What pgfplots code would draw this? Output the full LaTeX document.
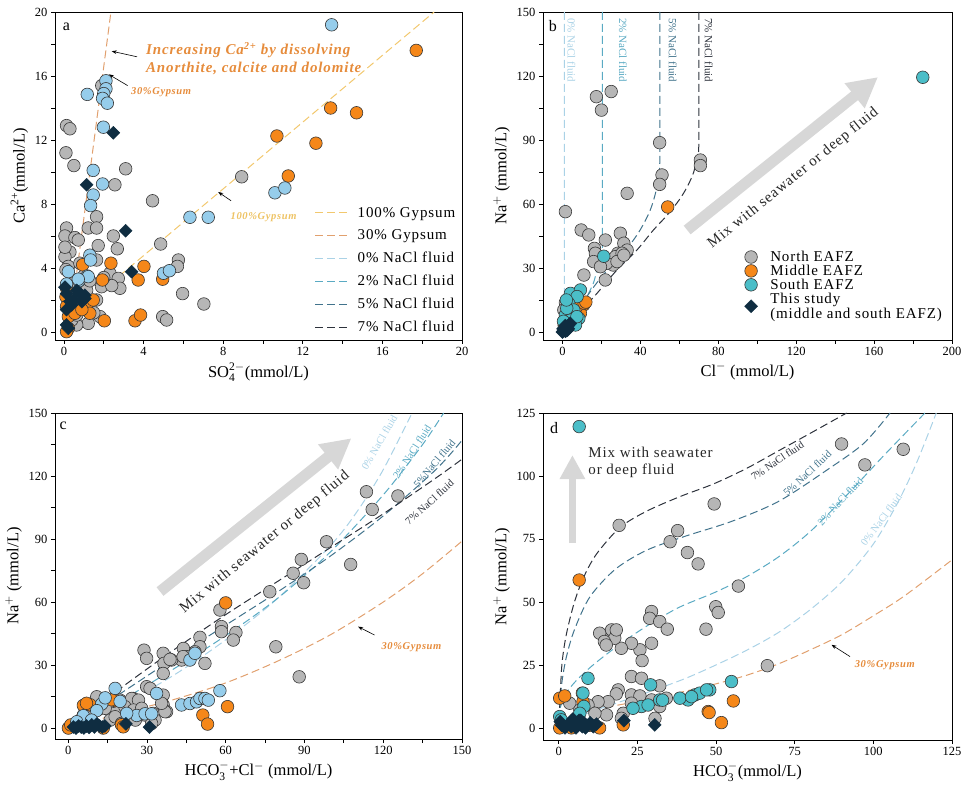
\documentclass[border=0pt]{standalone}
\usepackage{fontspec}
\setmainfont{Liberation Serif}
\newfontfamily\lsfont[LetterSpace=6]{Liberation Serif}
\usepackage{amsmath}
\usepackage{pgfplots}
\pgfplotsset{compat=1.18}
\usetikzlibrary{arrows.meta}

\definecolor{cN}{RGB}{182,182,182}
\definecolor{cEdge}{RGB}{55,55,55}
\definecolor{cM}{RGB}{245,135,25}
\definecolor{cSa}{RGB}{150,205,235}
\definecolor{cSb}{RGB}{75,190,200}
\definecolor{cD}{RGB}{15,45,65}
\definecolor{lG100}{RGB}{242,200,110}
\definecolor{lG30}{RGB}{225,160,110}
\definecolor{l0}{RGB}{170,210,230}
\definecolor{l2}{RGB}{90,170,195}
\definecolor{l5}{RGB}{65,115,140}
\definecolor{l7}{RGB}{45,50,60}
\definecolor{annO}{RGB}{230,140,60}
\definecolor{annY}{RGB}{238,195,100}
\definecolor{agray}{RGB}{215,215,215}

\pgfplotsset{
 panel/.style={scale only axis, axis line style={line width=0.8pt},
  tick align=outside, xtick pos=bottom, ytick pos=left,
  major tick length=4pt, minor tick length=4pt,
  every tick/.style={black, line width=0.7pt},
  tick label style={font=\fontsize{12.5}{13}\selectfont},
  label style={font=\fontsize{16.5}{17}\selectfont},
  /pgf/number format/assume math mode=true,
  legend cell align=left},
 gN/.style={only marks, mark=*, mark size=6.3pt, mark options={fill=cN, draw=cEdge, line width=0.6pt}},
 gM/.style={only marks, mark=*, mark size=6.3pt, mark options={fill=cM, draw=cEdge, line width=0.6pt}},
 gSa/.style={only marks, mark=*, mark size=6.3pt, mark options={fill=cSa, draw=cEdge, line width=0.6pt}},
 gSb/.style={only marks, mark=*, mark size=6.3pt, mark options={fill=cSb, draw=cEdge, line width=0.6pt}},
 gD/.style={only marks, mark=square*, mark size=4.6pt, mark options={fill=cD, draw=cD, rotate=45}},
 dline/.style={no marks, line width=1pt, dash pattern=on 8pt off 4pt},
}

\begin{document}
\begin{tikzpicture}
\path[use as bounding box] (0,0) rectangle (963pt,792pt);

% ---------------- panel a
\begin{axis}[panel, at={(55pt,452pt)}, anchor=south west, width=407pt, height=328pt,
 xmin=-0.45, xmax=20, ymin=-0.5, ymax=20, xtick={0,4,...,20}, ytick={0,4,...,20}, minor tick num=1,
 xlabel={SO$_{\text{4}}^{\text{2}-}$(mmol/L)}, ylabel={Ca$^{\text{2+}}$(mmol/L)},
 legend image code/.code={\draw[#1] (0pt,0pt) -- (32pt,0pt); \path (40pt,0pt);},
 legend style={at={(0.63,0.418)}, anchor=north west, draw=none, fill=none,
  font=\lsfont\fontsize{15}{16}\selectfont, row sep=7pt}]
\addplot[dline, lG100] coordinates {(0,0.6)(18.6,20)}; \addlegendentry{100\% Gypsum}
\addplot[dline, lG30] coordinates {(0.25,0)(2.36,20)}; \addlegendentry{30\% Gypsum}
\addlegendimage{dline, l0}\addlegendentry{0\% NaCl fluid}
\addlegendimage{dline, l2}\addlegendentry{2\% NaCl fluid}
\addlegendimage{dline, l5}\addlegendentry{5\% NaCl fluid}
\addlegendimage{dline, l7}\addlegendentry{7\% NaCl fluid}
\addplot[gN, forget plot] coordinates {(0.13,12.9)(0.3,12.7)(0.1,11.2)(0.5,10.4)(3.1,10.2)(2.56,9.2)(4.45,8.2)(8.93,9.7)(1.64,7.2)(0.13,6.5)(0.05,6.0)(1.22,6.5)(1.64,6.5)(0.55,5.9)(0.72,5.75)(2.48,6.0)(2.68,5.2)(1.72,5.4)(4.86,5.5)(5.75,4.5)(5.7,4.1)(5.96,2.4)(7.03,1.75)(4.96,0.96)(5.16,0.75)(0.3,5.0)(0.05,4.7)(0.22,4.1)(1.64,4.5)(2.31,3.67)(2.73,3.35)(2.81,2.73)(1.89,2.83)(1.64,2.0)(1.14,2.6)(0.64,2.4)(0.97,1.4)(1.22,0.54)(0.64,0.44)(0.39,0.75)(1.81,0.96)(2.4,2.9)(0.8,4.3)(0.64,1.06)(0.05,5.3)(1.9,15.4)(1.0,3.5)(1.3,3.2)(0.4,3.0)(0.1,3.9)(1.5,1.2)(2.0,3.4)};
\addplot[gM, forget plot] coordinates {(17.7,17.6)(13.4,14.0)(14.7,13.7)(10.7,12.25)(12.66,11.8)(11.27,9.75)(0.94,4.2)(2.36,4.3)(4.02,4.1)(3.73,3.25)(4.96,3.3)(1.93,3.25)(2.03,0.7)(3.57,0.7)(3.85,1.06)(0.13,2.73)(0.1,2.2)(0.13,1.6)(0.22,0.96)(0.22,0.23)(0.8,1.7)(1.14,1.5)(1.47,2.0)(0.55,1.17)(0.13,0.02)(1.3,1.17)(0.9,1.4)};
\addplot[gSa, forget plot] coordinates {(13.45,19.2)(1.17,14.85)(2.11,15.7)(2.11,15.2)(2.0,14.9)(1.94,14.6)(2.18,14.3)(1.98,12.8)(1.47,10.1)(1.47,8.56)(1.34,7.9)(1.94,9.25)(6.33,7.17)(7.25,7.17)(1.3,4.8)(1.34,4.5)(1.17,3.5)(0.75,3.2)(0.22,3.77)(5.0,3.67)(5.3,3.83)(10.6,8.7)(11.1,9.0)(0.13,3.0)(1.22,3.46)(0.72,3.3)};
\addplot[gD, forget plot] coordinates {(2.48,12.45)(1.14,9.2)(3.1,6.33)(3.4,3.77)(0.13,2.4)(0.3,1.9)(0.8,2.4)(1.05,2.1)(0.64,2.6)(0.13,1.4)(0.13,0.44)(0.22,0.23)(0.47,2.0)(0.05,2.8)(0.9,1.9)(0.39,1.69)(1.05,2.3)};
\node[anchor=west, align=left, text=annO, font=\lsfont\fontsize{15}{17.5}\selectfont\bfseries\itshape] at (axis cs:3.95,17.1) {Increasing Ca$^{\text{2+}}$ by dissolving\\Anorthite, calcite and dolomite};
\draw[-{Stealth[length=5pt]}, line width=0.6pt] (axis cs:3.67,17.2) -- (axis cs:2.4,17.55);
\node[anchor=west, text=annO, font=\lsfont\fontsize{10.5}{12}\selectfont\bfseries\itshape] at (axis cs:3.2,15.0) {30\%Gypsum};
\draw[-{Stealth[length=5pt]}, line width=0.6pt] (axis cs:3.2,15.4) -- (axis cs:2.25,16.1);
\node[anchor=west, text=annY, font=\lsfont\fontsize{10.5}{12}\selectfont\bfseries\itshape] at (axis cs:8.2,7.2) {100\%Gypsum};
\draw[-{Stealth[length=5pt]}, line width=0.6pt] (axis cs:8.4,8.2) -- (axis cs:7.75,8.75);
\node[font=\fontsize{16}{17}\selectfont] at (rel axis cs:0.028,0.955) {a};
\end{axis}

% ---------------- panel b
\begin{axis}[panel, at={(543pt,452pt)}, anchor=south west, width=409pt, height=328pt,
 xmin=-10, xmax=200, ymin=-3.75, ymax=150, xtick={0,40,...,200}, ytick={0,30,...,150}, minor tick num=1,
 xlabel={Cl$^{-}$ (mmol/L)}, ylabel={Na$^{+}$ (mmol/L)},
 legend image code/.code={\draw[#1, mark repeat=2, mark phase=2] plot coordinates {(0pt,0pt)(9pt,0pt)(18pt,0pt)}; \path (26pt,0pt);},
 legend style={at={(0.485,0.284)}, anchor=north west, draw=none, fill=none,
  font=\lsfont\fontsize{15}{15}\selectfont, row sep=-2pt, cells={align=left}}]
\addplot[dline, l0, forget plot] coordinates {(1,150)(1,8)(0.5,2)(0,0)};
\addplot[dline, l2, forget plot, smooth, tension=0.5] coordinates {(20.5,150)(20.5,42)(20,36)(18,30)(15.9,23)(12.5,16.6)(7.4,9)(0,0)};
\addplot[dline, l5, forget plot, smooth, tension=0.5] coordinates {(50,150)(50,84)(49.5,75)(48,66)(45,57)(40,48)(34.6,40.8)(29.6,35.3)(24.5,30.6)(17.6,23)(12.5,16.6)(7.4,10)(0,0)};
\addplot[dline, l7, forget plot, smooth, tension=0.5] coordinates {(70,150)(70,90)(69.5,84)(67.4,75)(64,68)(60,62)(54,55)(46.7,47.8)(38.2,38.4)(27.9,29)(17.6,18)(9,9.5)(0,0)};
\addplot[gN] coordinates {(17.4,110.3)(20,104)(25,112.7)(49.9,88.75)(51.1,73.6)(49.9,69.2)(70.8,80.6)(70.8,78)(33.2,65)(1.5,56.4)(9.6,47.8)(13.5,45.5)(16.4,39.2)(16.9,36.9)(16,33)(22,43.1)(29.7,46.3)(31.5,41.6)(33.2,38.4)(28.4,36.9)(27.2,35.3)(30.6,36.9)(26,31.4)(22.6,32.2)(22,24.4)(11,26.7)(19.5,30.6)(1.5,13.75)(0.7,10.3)(4.1,15)(28,33)(31.5,36)};
\addlegendentry{North EAFZ}
\addplot[gM] coordinates {(54,58.6)(7.5,11.1)(10.9,12.7)(5,8)(3.2,4.8)(1.5,1.7)(9.2,8.75)(7.3,11.9)(11.1,13.5)(4.3,7.2)(3.6,5.6)(0.9,3)(2,2.5)(12,14)};
\addlegendentry{Middle EAFZ}
\addplot[gSb] coordinates {(185,119.4)(4.1,18.1)(9.2,19.7)(7.5,16.6)(3.2,13.4)(5.8,10.3)(1.5,8)(4.1,5.6)(8.4,6.4)(6.7,3.3)(2.2,11.1)(7.4,7.2)(21.2,35.5)(2,15)(0.5,5)};
\addlegendentry{South EAFZ}
\addplot[gD] coordinates {(0,0)(1,1)(2,2)(3,3)(1,2)(2,1)(0.5,0.5)(3,1.5)(1.5,3)(4,4)(2.5,0.8)(0.3,1.5)(1.5,0.3)};
\addlegendentry{This study\\(middle and south EAFZ)}
\draw[agray, line width=11pt, -{Triangle[length=30pt,width=30pt]}] (axis cs:64,47.8) -- (axis cs:162,119.5);
\node[rotate=39, font=\lsfont\fontsize{15}{16}\selectfont, text=black!85] at (axis cs:118.5,72) {Mix with seawater or deep fluid};
\node[rotate=-90, text=l0, font=\fontsize{11}{12}\selectfont] at (axis cs:4.6,132) {0\% NaCl fluid};
\node[rotate=-90, text=l2, font=\fontsize{11}{12}\selectfont] at (axis cs:31,132) {2\% NaCl fluid};
\node[rotate=-90, text=l5, font=\fontsize{11}{12}\selectfont] at (axis cs:56.6,132) {5\% NaCl fluid};
\node[rotate=-90, text=l7, font=\fontsize{11}{12}\selectfont] at (axis cs:75,132) {7\% NaCl fluid};
\node[font=\fontsize{16}{17}\selectfont] at (rel axis cs:0.024,0.958) {b};
\end{axis}

% ---------------- panel c
\begin{axis}[panel, at={(55pt,53pt)}, anchor=south west, width=407pt, height=326pt,
 xmin=-5, xmax=150, ymin=-5.2, ymax=150, xtick={0,30,...,150}, ytick={0,30,...,150}, minor tick num=1,
 xlabel={HCO$_{\text{3}}^{-}$+Cl$^{-}$ (mmol/L)}, ylabel={Na$^{+}$ (mmol/L)}]
\addplot[dline, lG30, smooth] coordinates {(0,0)(20,7)(40,13.5)(60,21.5)(80,32)(100,44.5)(120,60)(135,73.5)(150,89)};
\addplot[dline, l0, smooth] coordinates {(0,0)(20,11)(40,25)(60,42)(80,62)(100,87)(110,103)(120,123)(131,150)};
\addplot[dline, l2, smooth] coordinates {(0,0)(20,13)(40,28)(60,44)(80,62)(100,84)(120,111)(135,135)(143,150)};
\addplot[dline, l5, smooth] coordinates {(0,0)(20,16.5)(40,33)(60,49)(80,65)(100,82)(120,101)(140,123)(150,137)};
\addplot[dline, l7, smooth] coordinates {(0,0)(20,19)(40,37)(60,54)(80,70)(100,86)(120,102)(140,119)(150,128)};
\addplot[gN] coordinates {(113.6,112.5)(125.6,110.5)(115.8,104.1)(98.4,88.7)(88.8,80.3)(85.7,73.7)(89.7,69.2)(107.6,77.9)(76.8,64.9)(79.1,38.7)(88,24.4)(57.8,56.2)(58.4,48.3)(58.4,45.9)(63.9,45.5)(62.9,41.9)(50.2,43.2)(50.2,38.7)(48.3,36.3)(52.1,30.8)(43.9,37.9)(43.2,32.4)(45.1,34)(28.9,37.1)(29.9,33.2)(36.2,35.6)(36.5,30.8)(39.4,32.4)(36.2,26)(29.9,19.7)(31.2,18.9)(36.2,15.7)(36.2,11)(37.5,7.8)(32.4,7)(24.8,14.1)(26,10.2)(22.3,11)(27.4,6.2)(21,5.4)(18.5,8.6)(5.8,6.2)(12.2,9.4)(16,3.8)(8.4,2.2)(19.8,13.3)(10.9,14.9)(24.2,14.1)(26.8,13.3)(21.6,10.2)(24.9,8.6)(28,9.4)(29.3,6.2)(23,5.4)(25.6,3.8)(33.1,3.8)(36.9,7.8)(35.6,11.8)(17.2,12.8)(14.1,9.4)(8.4,7.8)(7.1,5.4)(4.6,3.8)(17.9,5.4)(20.3,2.2)(31.8,2.2)(38.8,32.7)(43.8,34)};
\addplot[gM] coordinates {(60,59.6)(5.8,10.8)(8.4,11.1)(17.9,13.1)(51.3,6.2)(53.1,1.9)(60.7,10.2)(0.1,0)(13.4,0)(20.3,1.6)(2.5,0.8)(21,0.6)(16.5,13.5)(7,11.8)(1,1.5)};
\addplot[gSa] coordinates {(17.9,18.9)(33.7,16.5)(43.2,11)(46.4,11.7)(48.9,12.5)(50.2,14.1)(52.1,14.1)(53.4,13.3)(57.8,17.8)(26.1,6)(29.3,6.8)(31.8,6.8)(12.8,11.5)(10.9,8.3)(5.8,5.9)(3.3,3)(8.9,3.8)(19.8,12.7)(22.3,7)(14.1,14.4)(46.4,32.4)(48.3,35.6)};
\addplot[gD] coordinates {(3,0)(5,0.5)(6,0)(7,1)(8,0.3)(9,1.5)(10,0.5)(11,2)(12,1)(13,0.5)(14,1)(4,1)(22,2)(31,0.5)(2,0.5)};
\draw[agray, line width=11pt, -{Triangle[length=30pt,width=30pt]}] (axis cs:35,65) -- (axis cs:107.9,138);
\node[rotate=39.5, font=\lsfont\fontsize{15}{16}\selectfont, text=black!85] at (axis cs:74.9,88.3) {Mix with seawater or deep fluid};
\node[rotate=60, text=l0, font=\fontsize{10.5}{12}\selectfont] at (axis cs:118.5,136) {0\% NaCl fluid};
\node[rotate=57, text=l2, font=\fontsize{10.5}{12}\selectfont] at (axis cs:131,131.5) {2\% NaCl fluid};
\node[rotate=50, text=l5, font=\fontsize{10.5}{12}\selectfont] at (axis cs:139.5,126) {5\%NaCl fluid};
\node[rotate=42, text=l7, font=\fontsize{10.5}{12}\selectfont] at (axis cs:137.6,107.5) {7\% NaCl fluid};
\node[anchor=west, text=annO, font=\lsfont\fontsize{10.5}{12}\selectfont\bfseries\itshape] at (axis cs:118,38.7) {30\%Gypsum};
\draw[-{Stealth[length=5pt]}, line width=0.6pt] (axis cs:116.7,44.3) -- (axis cs:110.4,48.3);
\node[font=\fontsize{16}{17}\selectfont] at (rel axis cs:0.02,0.96) {c};
\end{axis}

% ---------------- panel d
\begin{axis}[panel, at={(543pt,52pt)}, anchor=south west, width=409pt, height=327pt,
 xmin=-5, xmax=125, ymin=-4.8, ymax=125, xtick={0,25,...,125}, ytick={0,25,...,125},
 xlabel={HCO$_{\text{3}}^{-}$(mmol/L)}, ylabel={Na$^{+}$ (mmol/L)}]
\addplot[dline, lG30, smooth] coordinates {(0,4)(10,7)(25,10.5)(40,14.5)(50,17.5)(60,21)(70,25.5)(80,31)(90,37)(100,44.5)(110,52.5)(125,66.7)};
\addplot[dline, l0, smooth] coordinates {(5,4)(14,8)(28,14)(40,19.5)(50,25)(60,31)(70,38)(80,47)(90,58)(100,73)(108,90)(114,106)(120,125)};
\addplot[dline, l2, smooth] coordinates {(0.5,8)(2,13)(5,18)(10,24)(16,30)(22.6,36)(30,42)(38.5,48)(50,54)(59.7,60)(70,68)(80,78)(92,93)(104,109)(116.4,125)};
\addplot[dline, l5, smooth] coordinates {(0.3,8)(1,18)(2.4,28)(5,39)(9.9,52)(18,63)(27.9,70.5)(40,76)(55,82)(70,90)(86,103)(97,113)(105.3,125)};
\addplot[dline, l7, smooth] coordinates {(0.3,8)(1,25)(2.4,37)(5,50)(8,60)(12,69)(19.4,79.5)(27.9,86)(38.5,91.8)(49.1,96.8)(59.7,103)(70.3,110.3)(80.9,117.6)(91.5,125)};
\addplot[gN] coordinates {(89.9,112.7)(97.3,104.4)(109.5,110.6)(49.4,88.9)(19.2,80.4)(37.8,78.3)(35.4,73.9)(40.9,69.6)(44.3,65.1)(57.1,56.3)(49.9,48.1)(50.7,45.8)(46.8,39.2)(29.5,46.2)(28.9,43.5)(32.1,42.2)(34.5,39.2)(29.5,33.6)(25.8,31)(26.5,26.7)(66.3,24.7)(23.1,33.6)(19.9,31.6)(16.8,36.9)(16.8,38.9)(17.8,35.6)(13,37.6)(14.5,34.3)(15.1,32.9)(18.3,38.9)(23.1,20.4)(26.3,19.7)(32.1,16.7)(18.9,15.1)(18.3,13.5)(23.1,13.1)(25.8,12.7)(15.7,10.4)(12.5,10.4)(9.3,9.1)(3.5,9.8)(32.1,8.5)(34.2,11.8)(23.1,9.8)(20.5,5.8)(15.2,5.2)(19.9,3.8)(11.5,5.8)(6.7,7.1)(29.5,11.1)(30.6,3.8)};
\addplot[gM] coordinates {(6.5,58.7)(0.3,11.8)(1.9,12.7)(7.5,13.8)(7.7,10.4)(47.5,6.5)(47.8,6.1)(51.7,2.1)(55.5,10.7)(0.3,0)(13,0)(20.5,1.2)(5.6,1.9)(4,0)(0.8,2.5)(10,1)};
\addplot[gSb] coordinates {(6.5,119.6)(9.3,19.7)(29.2,17.1)(54.9,18.4)(7.7,13.8)(8,8.5)(41.1,11.1)(38.5,11.8)(43.3,13.1)(44.8,13.8)(48,15.1)(47,15.1)(42.2,12.4)(32.1,11.1)(26.3,8.5)(23.6,7.8)(28.4,9.1)(6.7,5.8)(0.3,4.5)(0.8,3.2)(33,11)};
\addplot[gD] coordinates {(0.5,2.5)(1,1)(2,0)(3,1.5)(4,0.5)(5,2)(5.5,0)(6,1)(7,3)(7.5,0.5)(8,2)(8.5,0)(9,1)(10,2)(11,0.5)(12,1.5)(4.5,3.5)(6.5,3)(20.7,2.9)(30.5,1.2)};
\draw[agray, line width=7pt, -{Triangle[length=24pt,width=24pt]}] (axis cs:4.35,73.3) -- (axis cs:4.35,108.3);
\node[anchor=west, align=left, font=\lsfont\fontsize{15}{17}\selectfont, text=black!85] at (axis cs:8.3,105.5) {Mix with seawater\\or deep fluid};
\node[rotate=34, text=l7, font=\fontsize{10.5}{12}\selectfont] at (axis cs:69.5,106) {7\% NaCl fluid};
\node[rotate=43, text=l5, font=\fontsize{10.5}{12}\selectfont] at (axis cs:79,101) {5\% NaCl fluid};
\node[rotate=47, text=l2, font=\fontsize{10.5}{12}\selectfont] at (axis cs:89.5,90) {2\% NaCl fluid};
\node[rotate=53, text=l0, font=\fontsize{10.5}{12}\selectfont] at (axis cs:102.5,82.5) {0\% NaCl fluid};
\node[anchor=west, text=annO, font=\lsfont\fontsize{10.5}{12}\selectfont\bfseries\itshape] at (axis cs:93,25) {30\%Gypsum};
\draw[-{Stealth[length=5pt]}, line width=0.6pt] (axis cs:92.6,28.3) -- (axis cs:86.7,33);
\node[font=\fontsize{16}{17}\selectfont] at (rel axis cs:0.027,0.955) {d};
\end{axis}
\end{tikzpicture}
\end{document}
